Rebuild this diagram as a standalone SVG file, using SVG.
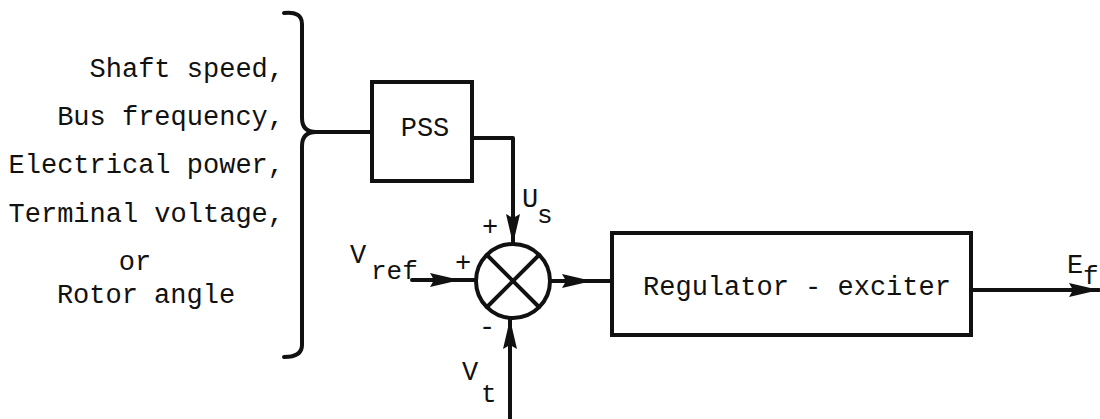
<svg xmlns="http://www.w3.org/2000/svg" width="1100" height="419" viewBox="0 0 1100 419">
<style>
text{font-family:"Liberation Mono","Courier New",monospace;font-size:27px;fill:#111}
.sub{font-size:26px}
.ln{fill:none;stroke:#111;stroke-width:4;stroke-linecap:round;stroke-linejoin:round}
.box{fill:#fff;stroke:#111;stroke-width:4}
</style>
<defs>
<marker id="ah" markerUnits="userSpaceOnUse" markerWidth="32" markerHeight="16" refX="30" refY="8" orient="auto">
<path d="M0,1 L30,8 L0,15 L4,8 Z" fill="#111"/>
</marker>
</defs>
<rect width="1100" height="419" fill="#fff"/>
<g id="inputs">
<path class="ln" d="M284,13 Q302,11 302,24 L302,118 Q302,132 316,132"/>
<path class="ln" d="M316,132 Q302,132 302,146 L302,345 Q302,357 284,357"/>
<text x="284" y="77" text-anchor="end">Shaft speed,</text>
<text x="284" y="125" text-anchor="end">Bus frequency,</text>
<text x="284" y="173" text-anchor="end">Electrical power,</text>
<text x="284" y="222" text-anchor="end">Terminal voltage,</text>
<text x="135" y="270" text-anchor="middle">or</text>
<text x="146" y="303" text-anchor="middle">Rotor angle</text>
</g>
<g id="pss">
<rect class="box" x="372" y="82" width="100" height="99"/>
<text x="425" y="136" text-anchor="middle">PSS</text>
</g>
<g id="sum">
<circle cx="513" cy="281" r="37" fill="#fff" stroke="#111" stroke-width="4"/>
<line class="ln" x1="487" y1="255" x2="539" y2="307"/>
<line class="ln" x1="539" y1="255" x2="487" y2="307"/>
</g>
<g id="regulator">
<rect class="box" x="612" y="233" width="359" height="102"/>
<text x="797" y="295" text-anchor="middle">Regulator - exciter</text>
</g>
<g id="connectors">
<line class="ln" x1="316" y1="132" x2="372" y2="132"/>
<path class="ln" d="M472,138 L513,138 L513,244" marker-end="url(#ah)"/>
<line class="ln" x1="412" y1="280" x2="460" y2="280" marker-end="url(#ah)"/>
<line class="ln" x1="458" y1="280" x2="476" y2="280"/>
<line class="ln" x1="550" y1="281" x2="592" y2="281" marker-end="url(#ah)"/>
<line class="ln" x1="590" y1="281" x2="612" y2="281"/>
<line class="ln" x1="510" y1="419" x2="510" y2="319" marker-end="url(#ah)"/>
<line class="ln" x1="971" y1="290" x2="1099" y2="290" marker-end="url(#ah)"/>
</g>
<g id="labels">
<text x="522" y="207">U</text>
<text class="sub" x="537" y="223">s</text>
<text x="490" y="235" text-anchor="middle">+</text>
<text x="463" y="271" text-anchor="middle">+</text>
<text x="487" y="335" text-anchor="middle">-</text>
<text x="350" y="263">V</text>
<text class="sub" x="371" y="279">ref</text>
<text x="462" y="380">V</text>
<text class="sub" x="481" y="402">t</text>
<text x="1067" y="273">E</text>
<text class="sub" x="1083" y="284">f</text>
</g>
</svg>
